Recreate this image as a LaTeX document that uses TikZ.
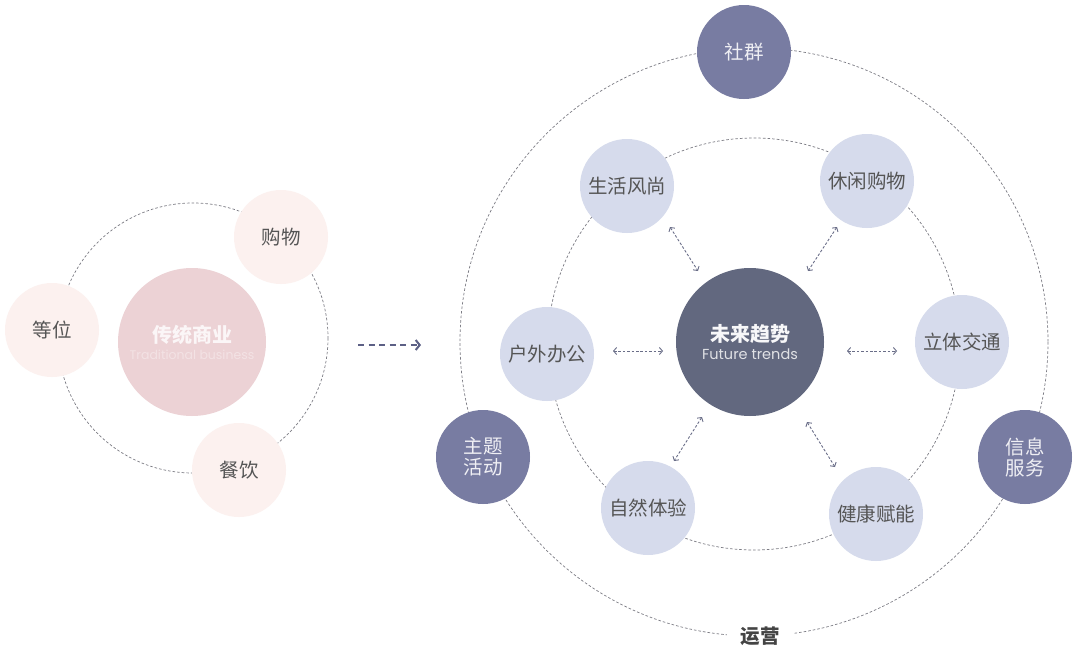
\documentclass[tikz,border=0pt]{standalone}
\usepackage{fontspec}
\setmainfont{Noto Sans CJK SC}
\newfontfamily\lat{Poppins}
\usetikzlibrary{arrows.meta}
\definecolor{pinkbig}{HTML}{ECD2D5}
\definecolor{pinksm}{HTML}{FCF1EF}
\definecolor{lav}{HTML}{D6DBEC}
\definecolor{plum}{HTML}{787CA2}
\definecolor{core}{HTML}{62687F}
\definecolor{txt}{HTML}{555555}
\definecolor{dashc}{HTML}{7C7C84}
\definecolor{arrc}{HTML}{6A6E88}
\definecolor{bigarr}{HTML}{5C6085}
\tikzset{
  ring/.style={draw=dashc, line width=0.7pt, dash pattern=on 2.6pt off 2pt},
  bub/.style={circle, minimum size=94pt, inner sep=0pt, font=\fontsize{19.5}{24}\selectfont},
  pinkbub/.style={bub, fill=pinksm, text=txt},
  lavbub/.style={bub, fill=lav, text=txt},
  plumbub/.style={bub, fill=plum, text=white!88!plum, align=center},
  hub/.style={circle, minimum size=148pt, inner sep=0pt, align=center},
  dbl/.style={draw=arrc, line width=0.9pt, dash pattern=on 2.6pt off 1.8pt,
    {Straight Barb[length=3pt,width=7pt]}-{Straight Barb[length=3pt,width=7pt]}},
}
\begin{document}
\begin{tikzpicture}[x=1pt,y=-1pt]
\useasboundingbox[fill=white] (0,0) rectangle (1080,651);
% ---- left group ----
\draw[ring] (193,338) circle[radius=135];
\node[hub, fill=pinkbig] (trad) at (192,342)
  {{\bfseries\color{white!80!pinkbig}\fontsize{20}{22}\selectfont 传统商业}\\[5pt]
   {\lat\color{white!35!pinkbig}\fontsize{12.5}{14}\selectfont Traditional business}};
\node[pinkbub] (gouwu) at (281,237) {购物};
\node[pinkbub] (dengwei) at (52,330) {等位};
\node[pinkbub] (canyin) at (239,470) {餐饮};
% ---- transition arrow ----
\coordinate (ta) at (358,345);
\coordinate (tb) at (421,345);
\draw[draw=bigarr, line width=2.2pt, dash pattern=on 6pt off 4.5pt,
  -{Straight Barb[length=4pt,width=10pt,line width=2pt]}] (ta) -- (tb);
% ---- right group ----
\draw[ring] (754,342) circle[radius=294];
\draw[ring] (754,344) circle[radius=206];
\node[hub, fill=core] (core) at (750,342)
  {{\bfseries\color{white!95!core}\fontsize{20}{22}\selectfont 未来趋势}\\[5pt]
   {\lat\color{white!80!core}\fontsize{14.5}{16}\selectfont Future trends}};
\node[plumbub] (shequn) at (744,52) {社群};
\node[plumbub] (zhuti) at (483,457) {主题\\[-3pt]活动};
\node[plumbub] (xinxi) at (1025,457) {信息\\[-3pt]服务};
\node[lavbub] (shfs) at (627,186) {生活风尚};
\node[lavbub] (xxgw) at (867,181) {休闲购物};
\node[lavbub] (hwbg) at (547,354) {户外办公};
\node[lavbub] (ltjt) at (962,342) {立体交通};
\node[lavbub] (zrty) at (648,508) {自然体验};
\node[lavbub] (jkfn) at (876,514) {健康赋能};
\node[fill=white, inner xsep=14pt, inner ysep=3pt, text=txt!80!black, font=\bfseries\fontsize{19.5}{22}\selectfont]
  (yunying) at (760,636) {运营};
% ---- two-way links ----
\coordinate (l1a) at (613,351); \coordinate (l1b) at (663,351);
\coordinate (r1a) at (847,351); \coordinate (r1b) at (897,351);
\coordinate (ula) at (670,227); \coordinate (ulb) at (698,271);
\coordinate (ura) at (837,227); \coordinate (urb) at (808,271);
\coordinate (lla) at (702,417); \coordinate (llb) at (674,461);
\coordinate (lra) at (807,422); \coordinate (lrb) at (835,467);
\draw[dbl] (l1a) -- (l1b);
\draw[dbl] (r1a) -- (r1b);
\draw[dbl] (ula) -- (ulb);
\draw[dbl] (ura) -- (urb);
\draw[dbl] (lla) -- (llb);
\draw[dbl] (lra) -- (lrb);
\end{tikzpicture}
\end{document}
